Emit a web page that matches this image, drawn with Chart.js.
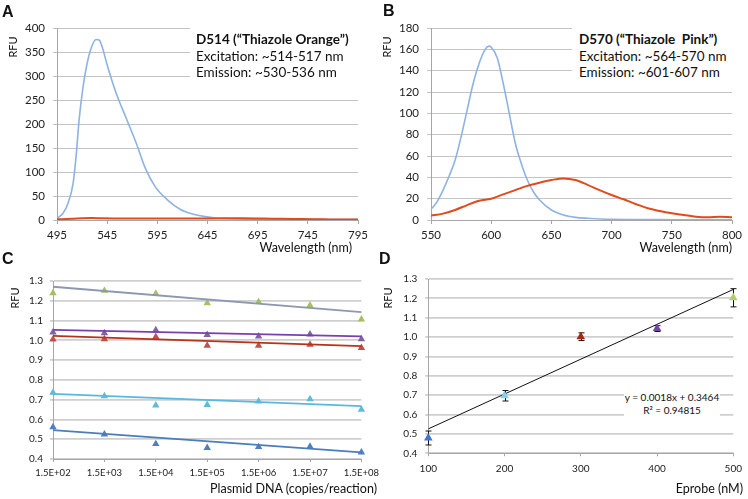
<!DOCTYPE html>
<html>
<head>
<meta charset="utf-8">
<script src="https://cdn.jsdelivr.net/npm/chart.js@4.4.0/dist/chart.umd.min.js"></script>
<style>
  body { margin:0; background:#fff; width:748px; height:499px; overflow:hidden; position:relative; font-family:Lato, "Open Sans", sans-serif; color:#111; }
  canvas { position:absolute; }
  .t { position:absolute; white-space:pre; line-height:1; }
  .mid { transform:translate(-50%,-50%); }
  .right { transform:translate(-100%,-50%); }
  .rot { transform:translate(-50%,-50%) rotate(-90deg); font-size:11px; }
  .letter { font-family:"Liberation Sans", Arial, sans-serif; font-weight:bold; font-size:16px; transform:translate(0,-50%); }
  .box { position:absolute; background:#fff; }
  .note { position:absolute; font-size:13.5px; line-height:16.5px; white-space:pre; }
  .eq { position:absolute; background:#fff; font-size:10px; line-height:12.5px; text-align:center; }
</style>
</head>
<body>
<canvas id="cA" width="374" height="250" style="left:0;top:0"></canvas>
<canvas id="cB" width="374" height="250" style="left:374px;top:0"></canvas>
<canvas id="cC" width="400" height="249" style="left:0;top:250px"></canvas>
<canvas id="cD" width="374" height="249" style="left:374px;top:250px"></canvas>

<!-- panel letters -->
<div class="t letter" style="left:2px;top:12px">A</div>
<div class="t letter" style="left:383px;top:11px">B</div>
<div class="t letter" style="left:2px;top:259px">C</div>
<div class="t letter" style="left:379px;top:259px">D</div>

<!-- axis titles -->
<div class="t rot" style="left:12px;top:47px">RFU</div>
<div class="t rot" style="left:386px;top:47px">RFU</div>
<div class="t rot" style="left:14px;top:298px">RFU</div>
<div class="t rot" style="left:387px;top:298px">RFU</div>
<div class="t right" style="left:352px;top:248px;font-size:12.5px">Wavelength (nm)</div>
<div class="t right" style="left:732px;top:248px;font-size:12.5px">Wavelength (nm)</div>
<div class="t right" style="left:377px;top:489px;font-size:12.5px">Plasmid DNA (copies/reaction)</div>
<div class="t right" style="left:743px;top:489px;font-size:12.5px">Eprobe (nM)</div>

<!-- dye annotations (white boxes hide the gridlines behind them) -->
<div class="box" style="left:190px;top:18px;width:172px;height:68px"></div>
<div class="note" style="left:196px;top:31px"><b>D514 (“Thiazole Orange”)</b>
Excitation: ~514-517 nm
Emission: ~530-536 nm</div>
<div class="box" style="left:572px;top:18px;width:166px;height:68px"></div>
<div class="note" style="left:579px;top:31px"><b>D570 (“Thiazole  Pink”)</b>
Excitation: ~564-570 nm
Emission: ~601-607 nm</div>

<div class="eq" style="left:624px;top:389px;width:96px;height:32px;padding-top:2px">y = 0.0018x + 0.3464<br>R² = 0.94815</div>

<script>
// ---- panel A: D514 spectra ----
const aBlueNm  = [495, 501, 506, 511, 514, 517, 521, 525, 529, 534, 537, 540, 545, 554, 564, 574, 583, 593, 605, 618, 631, 643, 655, 671, 704, 750, 795];
const aBlueRfu = [3.5, 14, 35, 76, 132, 208, 278, 326, 358, 376, 375, 361, 323, 264, 212, 160, 108, 69, 42, 22, 12, 7, 3.5, 2, 1.4, 1, 0.8];
const aRedNm   = [495, 510, 520, 530, 540, 560, 580, 600, 620, 640, 660, 680, 700, 720, 740, 760, 780, 795];
const aRedRfu  = [1.5, 2.5, 3.5, 4, 3.5, 3, 3, 3, 3, 3, 3.5, 3.5, 3, 2.5, 2, 1.5, 1, 1];

// ---- panel B: D570 spectra ----
const bBlueNm  = [550, 555, 560, 565, 570, 575, 580, 585, 590, 595, 598, 600, 605, 610, 615, 620, 625, 630, 635, 640, 650, 660, 670, 680, 700, 750, 800];
const bBlueRfu = [10, 17, 28, 41, 56, 78, 103, 128, 147, 160, 163, 162, 152, 128, 100, 72, 53, 37.5, 26.5, 19, 9.4, 4.7, 2.5, 1.6, 0.6, 0.3, 0.2];
const bRedNm   = [550, 560, 570, 580, 590, 600, 610, 620, 630, 640, 650, 660, 670, 680, 690, 700, 710, 720, 730, 740, 750, 760, 770, 780, 790, 800];
const bRedRfu  = [4, 6, 9.4, 14, 18, 20, 24, 28, 32, 35, 37.5, 39, 37.5, 33, 28, 23.4, 19.4, 15, 11, 8.4, 6.3, 4.7, 3.1, 2.5, 3.1, 2.5];

// ---- panel C: RFU vs plasmid copies ----
const copies  = ['1.5E+02', '1.5E+03', '1.5E+04', '1.5E+05', '1.5E+06', '1.5E+07', '1.5E+08'];
const cGreen  = [1.239, 1.251, 1.236, 1.188, 1.194, 1.177, 1.106];
const cPurple = [1.040, 1.037, 1.052, 1.028, 1.020, 1.030, 1.006];
const cRed    = [1.005, 1.006, 1.018, 0.974, 0.974, 0.979, 0.962];
const cCyan   = [0.736, 0.718, 0.671, 0.674, 0.692, 0.703, 0.650];
const cBlue   = [0.561, 0.525, 0.476, 0.456, 0.461, 0.463, 0.434];
// trend line ends (first, last category)
const cGreenFit  = [1.271, 1.143];
const cPurpleFit = [1.053, 1.020];
const cRedFit    = [1.023, 0.971];
const cCyanFit   = [0.729, 0.667];
const cBlueFit   = [0.546, 0.434];

// ---- panel D: RFU vs Eprobe ----
const dConc = [100, 200, 300, 400, 500];
const dRfu  = [0.479, 0.697, 1.002, 1.044, 1.203];
const dErr  = [0.036, 0.027, 0.02, 0.015, 0.047];
const dFitX = [100, 500];
const dFitY = [0.526, 1.246];

const tickColor = '#222';
const axisColor = '#a6a6a6';

function pts(xs, ys) {
  return xs.map((x, i) => ({x: x, y: ys[i]}));
}
function ends(v) {
  // trend line drawn only between first and last category
  const out = copies.map(() => null);
  out[0] = v[0];
  out[copies.length - 1] = v[1];
  return out;
}
const base = {
  responsive: false,
  animation: false,
  events: [],
  plugins: { legend: { display: false }, tooltip: { enabled: false } }
};

// spectra charts (A, B)
function spectrum(id, xmin, xmax, ymax, ystep, blue, red) {
  return new Chart(document.getElementById(id), {
    type: 'scatter',
    data: {
      datasets: [
        { data: red, showLine: true, borderColor: '#e04a1f', borderWidth: 2, pointRadius: 0, cubicInterpolationMode: 'monotone' },
        { data: blue, showLine: true, borderColor: '#8eb3e0', borderWidth: 1.6, pointRadius: 0, cubicInterpolationMode: 'monotone' }
      ]
    },
    options: Object.assign({}, base, {
      layout: { padding: { top: 28, right: 16, left: 0, bottom: 0 } },
      scales: {
        x: {
          type: 'linear', min: xmin, max: xmax,
          ticks: { stepSize: 50, color: tickColor, font: { family: 'Lato', size: 11.5 }, padding: 4, maxRotation: 0 },
          grid: { drawOnChartArea: false, tickLength: 4, color: axisColor },
          border: { color: axisColor },
          afterFit: s => { s.height = 30; }
        },
        y: {
          min: 0, max: ymax,
          ticks: { stepSize: ystep, color: tickColor, font: { family: 'Lato', size: 11.5 }, padding: 8 },
          grid: { color: '#c4c4c4', tickLength: 4 },
          border: { color: axisColor },
          afterFit: s => { s.width = 57; }
        }
      }
    })
  });
}
spectrum('cA', 495, 795, 400, 50, pts(aBlueNm, aBlueRfu), pts(aRedNm, aRedRfu));
spectrum('cB', 550, 800, 180, 20, pts(bBlueNm, bBlueRfu), pts(bRedNm, bRedRfu));

// panel C
function marks(v, color) {
  return { data: v, showLine: false, clip: false, pointStyle: 'triangle', pointRadius: 4.3, pointBackgroundColor: color, pointBorderColor: color, borderWidth: 0 };
}
function fit(v, color) {
  return { data: ends(v), spanGaps: true, borderColor: color, borderWidth: 1.8, pointRadius: 0 };
}
new Chart(document.getElementById('cC'), {
  type: 'line',
  data: {
    labels: copies,
    datasets: [
      fit(cGreenFit, '#8d98b0'), fit(cPurpleFit, '#7a3fae'), fit(cRedFit, '#b8321a'),
      fit(cCyanFit, '#5ab8e0'), fit(cBlueFit, '#4a7dbd'),
      marks(cGreen, '#a3c15e'), marks(cPurple, '#8064a2'), marks(cRed, '#c0504d'),
      marks(cCyan, '#5fbbd9'), marks(cBlue, '#4f7fc0')
    ]
  },
  options: Object.assign({}, base, {
    layout: { padding: { top: 31, right: 38.6, left: 0, bottom: 0 } },
    scales: {
      x: {
        ticks: { color: tickColor, font: { family: 'Lato', size: 9.5 }, padding: 5, maxRotation: 0, autoSkip: false },
        grid: { drawOnChartArea: false, tickLength: 3, color: axisColor },
        border: { color: axisColor },
        afterFit: s => { s.height = 40; }
      },
      y: {
        min: 0.4, max: 1.3,
        ticks: { stepSize: 0.1, color: tickColor, font: { family: 'Lato', size: 10 }, padding: 7, callback: v => v.toFixed(1) },
        grid: { color: '#cfcfcf', lineWidth: 1.8, tickLength: 3 },
        border: { color: axisColor },
        afterFit: s => { s.width = 53; }
      }
    }
  })
});

// panel D: error bars go under the markers
const errorBars = {
  id: 'errorBars',
  beforeDatasetsDraw(chart) {
    const ctx = chart.ctx, xs = chart.scales.x, ys = chart.scales.y;
    ctx.save();
    ctx.strokeStyle = '#111';
    ctx.lineWidth = 1;
    dConc.forEach((c, i) => {
      const x = Math.round(xs.getPixelForValue(c)) + 0.5;
      const top = ys.getPixelForValue(dRfu[i] + dErr[i]);
      const bot = ys.getPixelForValue(dRfu[i] - dErr[i]);
      ctx.beginPath();
      ctx.moveTo(x, top); ctx.lineTo(x, bot);
      ctx.moveTo(x - 3, top); ctx.lineTo(x + 3, top);
      ctx.moveTo(x - 3, bot); ctx.lineTo(x + 3, bot);
      ctx.stroke();
    });
    ctx.restore();
  }
};
const dColors = ['#4174c8', '#86d0ee', '#a8280e', '#7446a8', '#aed066'];
new Chart(document.getElementById('cD'), {
  type: 'scatter',
  data: {
    datasets: [
      { data: pts(dConc, dRfu), clip: false, pointStyle: 'triangle', pointRadius: 5, pointBackgroundColor: dColors, pointBorderColor: dColors, borderWidth: 0 },
      { data: pts(dFitX, dFitY), showLine: true, borderColor: '#111', borderWidth: 1, pointRadius: 0 }
    ]
  },
  options: Object.assign({}, base, {
    layout: { padding: { top: 29, right: 11.5, left: 0, bottom: 0 } },
    scales: {
      x: {
        type: 'linear', min: 100, max: 500,
        ticks: { stepSize: 100, color: tickColor, font: { family: 'Lato', size: 10 }, padding: 6, maxRotation: 0 },
        grid: { drawOnChartArea: false, tickLength: 3, color: axisColor },
        border: { color: axisColor },
        afterFit: s => { s.height = 45.7; }
      },
      y: {
        min: 0.4, max: 1.3,
        ticks: { stepSize: 0.1, color: tickColor, font: { family: 'Lato', size: 10 }, padding: 8, callback: v => v.toFixed(1) },
        grid: { color: '#cfcfcf', lineWidth: 1.8, tickLength: 3 },
        border: { color: axisColor },
        afterFit: s => { s.width = 54.3; }
      }
    }
  }),
  plugins: [errorBars]
});
</script>
</body>
</html>
